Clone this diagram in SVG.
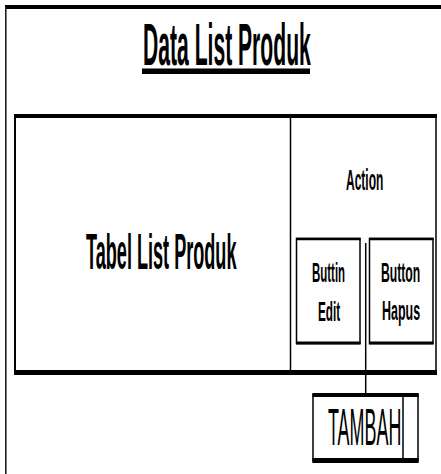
<svg xmlns="http://www.w3.org/2000/svg" width="441" height="474" viewBox="0 0 441 474">
<style>
.b{font-family:"Liberation Sans",Arial,sans-serif;font-weight:bold;fill:#000}
.r{font-family:"Liberation Sans",Arial,sans-serif;font-weight:normal;fill:#000}
.thin{fill:none;stroke:#000;stroke-width:1.5}
</style>
<rect width="441" height="474" fill="#fff"/>
<g id="frame">
<line x1="5" y1="7" x2="441" y2="7" stroke="#000" stroke-width="4"/>
<line x1="5.8" y1="7" x2="5.8" y2="474" stroke="#222" stroke-width="1.6"/>
</g>
<g id="title">
<text class="b" transform="translate(143 65) scale(0.352 1)" font-size="60">Data List Produk</text>
<rect x="142" y="68.5" width="168" height="5.5" fill="#000"/>
</g>
<g id="table">
<rect class="thin" x="15" y="116" width="421" height="256"/>
<line x1="14" y1="116" x2="437" y2="116" stroke="#000" stroke-width="4"/>
<line x1="14" y1="372.5" x2="437" y2="372.5" stroke="#000" stroke-width="5"/>
<line x1="15" y1="116" x2="15" y2="372" stroke="#000" stroke-width="2"/>
<line x1="290.5" y1="116" x2="290.5" y2="372" stroke="#000" stroke-width="1.5"/>
<text class="b" transform="translate(86 269) scale(0.362 1)" font-size="50">Tabel List Produk</text>
</g>
<g id="action">
<text class="b" transform="translate(346 190) scale(0.4 1)" font-size="30">Action</text>
</g>
<g id="connectors">
<line x1="365.7" y1="243" x2="365.7" y2="394" stroke="#000" stroke-width="1.5"/>
</g>
<g id="btn-edit">
<rect class="thin" x="296.5" y="238.5" width="63.5" height="105"/>
<line x1="296" y1="239" x2="360.5" y2="239" stroke="#000" stroke-width="2.5"/>
<line x1="296" y1="343" x2="360.5" y2="343" stroke="#000" stroke-width="3"/>
<text class="b" transform="translate(312 282) scale(0.41 1)" font-size="28">Buttin</text>
<text class="b" transform="translate(318 321) scale(0.42 1)" font-size="28">Edit</text>
</g>
<g id="btn-hapus">
<rect class="thin" x="369.5" y="238.5" width="63.5" height="105"/>
<line x1="369" y1="239" x2="433.5" y2="239" stroke="#000" stroke-width="2.5"/>
<line x1="369" y1="343" x2="433.5" y2="343" stroke="#000" stroke-width="3"/>
<text class="b" transform="translate(381 282) scale(0.435 1)" font-size="28">Button</text>
<text class="b" transform="translate(382 320) scale(0.445 1)" font-size="28">Hapus</text>
</g>
<g id="tambah">
<rect class="thin" x="313" y="395" width="105" height="65.5"/>
<line x1="312.3" y1="395" x2="418.7" y2="395" stroke="#000" stroke-width="4"/>
<line x1="312.3" y1="460.5" x2="418.7" y2="460.5" stroke="#000" stroke-width="5"/>
<line x1="403" y1="395" x2="403" y2="461" stroke="#000" stroke-width="1.5"/>
<text class="r" transform="translate(328 445) scale(0.345 1)" font-size="52">TAMBAH</text>
</g>
</svg>
